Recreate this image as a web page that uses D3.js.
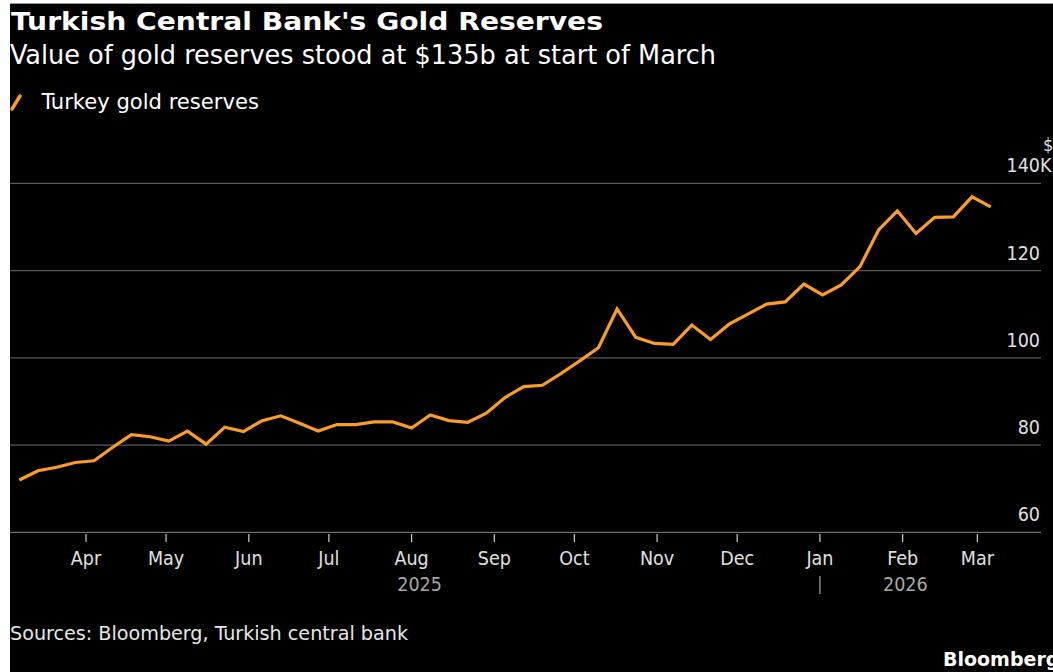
<!DOCTYPE html>
<html>
<head>
<meta charset="utf-8">
<script src="https://cdn.jsdelivr.net/npm/d3@7"></script>
<style>
  html, body { margin: 0; padding: 0; background: #ffffff; overflow: hidden; }
  svg { display: block; }
</style>
</head>
<body>
<svg id="chart" width="1053" height="672"></svg>
<script>
// ---- data ----
const dates = [
  "2025-03-07","2025-03-14","2025-03-21","2025-03-28",
  "2025-04-04","2025-04-11","2025-04-18","2025-04-25",
  "2025-05-02","2025-05-09","2025-05-16","2025-05-23","2025-05-30",
  "2025-06-06","2025-06-13","2025-06-20","2025-06-27",
  "2025-07-04","2025-07-11","2025-07-18","2025-07-25",
  "2025-08-01","2025-08-08","2025-08-15","2025-08-22","2025-08-29",
  "2025-09-05","2025-09-12","2025-09-19","2025-09-26",
  "2025-10-03","2025-10-10","2025-10-17","2025-10-24","2025-10-31",
  "2025-11-07","2025-11-14","2025-11-21","2025-11-28",
  "2025-12-05","2025-12-12","2025-12-19","2025-12-26",
  "2026-01-02","2026-01-09","2026-01-16","2026-01-23","2026-01-30",
  "2026-02-06","2026-02-13","2026-02-20","2026-02-27",
  "2026-03-06"
];
// Turkey gold reserves, $ billions
const reserves = [
  72.0, 74.1, 74.9, 76.0,
  76.4, 79.5, 82.4, 81.9,
  80.9, 83.2, 80.2, 84.1, 83.1,
  85.6, 86.7, 85.0, 83.2,
  84.7, 84.7, 85.3, 85.3,
  83.9, 86.9, 85.6, 85.2, 87.3,
  90.9, 93.4, 93.7, 96.4,
  99.3, 102.3, 111.2, 104.7, 103.3,
  103.1, 107.5, 104.2, 107.7,
  110.0, 112.3, 112.8, 116.9,
  114.4, 116.7, 120.9, 129.3, 133.7,
  128.5, 132.2, 132.3, 136.9,
  134.6
];
const yTicks = [60, 80, 100, 120, 140];
const yearLabels = ["2025", "2026"];
const titleText = "Turkish Central Bank's Gold Reserves";
const subtitleText = "Value of gold reserves stood at $135b at start of March";
const legendText = "Turkey gold reserves";
const sourceText = "Sources: Bloomberg, Turkish central bank";

// ---- setup ----
const parse = d3.utcParse("%Y-%m-%d");
const data = dates.map((d, i) => ({ date: parse(d), value: reserves[i] }));

const W = 1053, H = 672;
const svg = d3.select("#chart");
const FONT = "'DejaVu Sans Condensed', 'DejaVu Sans', sans-serif";
const ORANGE = "#fb9d26";

// black panel (white strip at left and top like the reference)
svg.append("rect").attr("x", 10).attr("y", 4).attr("width", W - 10).attr("height", H - 4).attr("fill", "#000");
svg.append("line").attr("x1", 10).attr("x2", W).attr("y1", 3.5).attr("y2", 3.5).attr("stroke", "#9a9a9a").attr("stroke-width", 1);

const plotLeft = 10, plotRight = 1040;
const x = d3.scaleUtc()
  .domain(d3.extent(data, d => d.date))
  .range([19.3, 990.7]);
const y = d3.scaleLinear().domain([60, 140]).range([532.3, 183.3]);

function fit(sel, target) {
  const node = sel.node();
  const fs = parseFloat(sel.attr("font-size"));
  const w = node.getComputedTextLength();
  if (w > 0) sel.attr("font-size", (fs * target / w).toFixed(2));
}

// ---- titles ----
const title = svg.append("text").attr("x", 11).attr("y", 30)
  .attr("font-family", "'DejaVu Sans', sans-serif").attr("font-weight", "bold")
  .attr("font-size", 25).attr("fill", "#ffffff")
  .attr("textLength", 592).attr("lengthAdjust", "spacingAndGlyphs")
  .text(titleText);

svg.append("text").attr("x", 10).attr("y", 63.5)
  .attr("font-family", FONT).attr("font-size", 27).attr("fill", "#ffffff")
  .attr("textLength", 706).attr("lengthAdjust", "spacingAndGlyphs")
  .text(subtitleText);

// legend
svg.append("line").attr("x1", 12).attr("y1", 109).attr("x2", 20).attr("y2", 96)
  .attr("stroke", ORANGE).attr("stroke-width", 3.5).attr("stroke-linecap", "round");
svg.append("text").attr("x", 41.5).attr("y", 108.5)
  .attr("font-family", FONT).attr("font-size", 21).attr("fill", "#ffffff")
  .attr("textLength", 217.5).attr("lengthAdjust", "spacingAndGlyphs")
  .text(legendText);

// ---- gridlines & y labels ----
const grid = svg.append("g");
grid.selectAll("line").data(yTicks).join("line")
  .attr("x1", plotLeft).attr("x2", plotRight + 1)
  .attr("y1", d => y(d)).attr("y2", d => y(d))
  .attr("stroke", d => d === 60 ? "#6e6e6e" : "#5a5a5a").attr("stroke-width", 1.3);

grid.selectAll("text.yl").data(yTicks).join("text").attr("class", "yl")
  .attr("x", 1040).attr("y", d => y(d) - 11)
  .attr("text-anchor", "end")
  .attr("font-family", FONT).attr("font-size", 19.5).attr("fill", "#e0e0e0")
  .text(d => d);
svg.append("text").attr("x", 1040).attr("y", y(140) - 11)
  .attr("font-family", FONT).attr("font-size", 19.5).attr("fill", "#e0e0e0").text("K");
svg.append("text").attr("x", 1043).attr("y", y(140) - 32)
  .attr("font-family", FONT).attr("font-size", 18).attr("fill", "#e0e0e0").text("$");

// ---- x axis ----
const months = d3.utcMonth.range(d3.utcMonth.ceil(x.domain()[0]), x.domain()[1]);
const xa = svg.append("g");
xa.selectAll("line").data(months).join("line")
  .attr("x1", d => x(d)).attr("x2", d => x(d))
  .attr("y1", 534).attr("y2", 542)
  .attr("stroke", "#cfcfcf").attr("stroke-width", 1.2);
xa.selectAll("text").data(months).join("text")
  .attr("x", d => x(d)).attr("y", 565)
  .attr("text-anchor", "middle")
  .attr("font-family", FONT).attr("font-size", 19.5).attr("fill", "#e0e0e0")
  .text(d => d3.utcFormat("%b")(d));

// year labels centered in each year's span of the domain
const yearStart = d3.utcYear.ceil(x.domain()[0]);
const spans = [[x.domain()[0], yearStart], [yearStart, x.domain()[1]]];
svg.selectAll("text.year").data(spans).join("text").attr("class", "year")
  .attr("x", d => (x(d[0]) + x(d[1])) / 2).attr("y", 590.5)
  .attr("text-anchor", "middle")
  .attr("font-family", FONT).attr("font-size", 19.5).attr("fill", "#a8a8a8")
  .text((d, i) => yearLabels[i]);
svg.append("line").attr("x1", x(yearStart)).attr("x2", x(yearStart))
  .attr("y1", 576).attr("y2", 594).attr("stroke", "#a8a8a8").attr("stroke-width", 1.2);

// ---- line ----
const line = d3.line().x(d => x(d.date)).y(d => y(d.value));
svg.append("path").datum(data)
  .attr("d", line)
  .attr("fill", "none")
  .attr("stroke", ORANGE)
  .attr("stroke-width", 3.2)
  .attr("stroke-linejoin", "miter")
  .attr("stroke-linecap", "butt");

// ---- footer ----
svg.append("text").attr("x", 10).attr("y", 640)
  .attr("font-family", FONT).attr("font-size", 20).attr("fill", "#e6e6e6")
  .attr("textLength", 398).attr("lengthAdjust", "spacingAndGlyphs")
  .text(sourceText);
svg.append("text").attr("x", 943).attr("y", 666)
  .attr("font-family", "'DejaVu Sans', sans-serif").attr("font-weight", "bold")
  .attr("font-size", 19).attr("fill", "#ffffff").text("Bloomberg");
</script>
</body>
</html>
